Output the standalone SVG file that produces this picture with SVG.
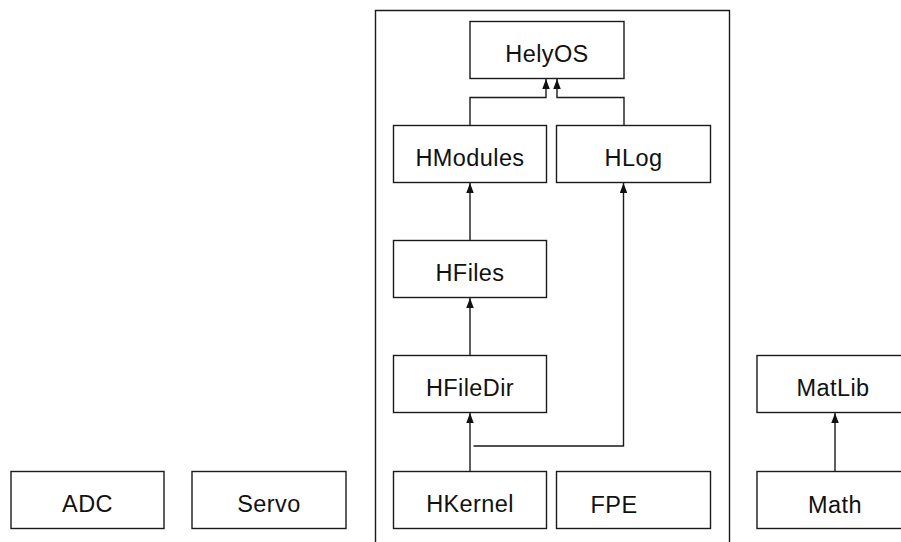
<svg xmlns="http://www.w3.org/2000/svg" width="901" height="542" viewBox="0 0 901 542">
<style>
.box{fill:#fff;stroke:#1a1a1a;stroke-width:1.4}
.lbl{font-family:"Liberation Sans",Arial,sans-serif;font-size:23.5px;fill:#111;text-anchor:middle;letter-spacing:0.4px}
.edge{fill:none;stroke:#1a1a1a;stroke-width:1.4}
</style>
<defs>
<marker id="ah" markerUnits="userSpaceOnUse" markerWidth="10" markerHeight="7.5" refX="10" refY="3.75" orient="auto" viewBox="0 0 10 7.5">
<path d="M0,0 L10,3.75 L0,7.5 Z" fill="#111"/>
</marker>
</defs>
<g id="container"><path class="edge" d="M375.5,542 V10.5 H729.5 V542"/></g>
<g id="HelyOS"><rect class="box" x="470" y="21.5" width="154" height="57"/><text class="lbl" x="547" y="62">HelyOS</text></g>
<g id="HModules"><rect class="box" x="393.5" y="125.5" width="153" height="57"/><text class="lbl" x="470" y="166">HModules</text></g>
<g id="HLog"><rect class="box" x="556.5" y="125.5" width="154" height="57"/><text class="lbl" x="633.5" y="166">HLog</text></g>
<g id="HFiles"><rect class="box" x="393.5" y="240.5" width="153" height="57"/><text class="lbl" x="470" y="281">HFiles</text></g>
<g id="HFileDir"><rect class="box" x="393.5" y="355.5" width="153" height="57"/><text class="lbl" x="470" y="396">HFileDir</text></g>
<g id="HKernel"><rect class="box" x="393.5" y="471.5" width="153" height="57"/><text class="lbl" x="470" y="511.5">HKernel</text></g>
<g id="FPE"><rect class="box" x="556.5" y="471.5" width="154" height="57"/><text class="lbl" x="614" y="513">FPE</text></g>
<g id="ADC"><rect class="box" x="11" y="471.5" width="153" height="57"/><text class="lbl" x="87.5" y="511.5">ADC</text></g>
<g id="Servo"><rect class="box" x="192" y="471.5" width="154" height="57"/><text class="lbl" x="269" y="511.5">Servo</text></g>
<g id="MatLib"><rect class="box" x="757" y="355.5" width="154" height="57"/><text class="lbl" x="833" y="396">MatLib</text></g>
<g id="Math"><rect class="box" x="757" y="471.5" width="154" height="57"/><text class="lbl" x="835" y="513">Math</text></g>
<g id="connectors">
<path class="edge" d="M470,125.5 V97.5 H546 V79" marker-end="url(#ah)"/>
<path class="edge" d="M624,125.5 V97.5 H557 V79" marker-end="url(#ah)"/>
<path class="edge" d="M470,240.5 V183" marker-end="url(#ah)"/>
<path class="edge" d="M470,355.5 V298" marker-end="url(#ah)"/>
<path class="edge" d="M470,471.5 V413" marker-end="url(#ah)"/>
<path class="edge" d="M473.5,446 H623.5 V183" marker-end="url(#ah)"/>
<path class="edge" d="M835,471.5 V413" marker-end="url(#ah)"/>
</g>
</svg>
